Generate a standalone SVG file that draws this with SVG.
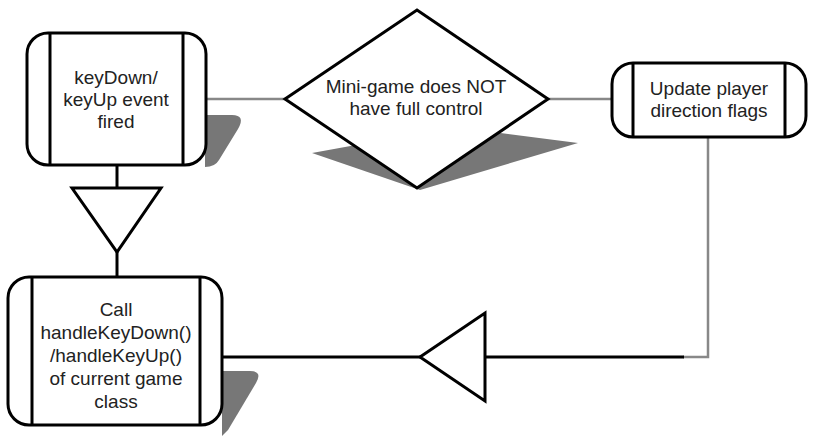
<svg xmlns="http://www.w3.org/2000/svg" width="816" height="436" viewBox="0 0 816 436">
<style>
.box{fill:#fff;stroke:#000;stroke-width:3}
.div{stroke:#000;stroke-width:3}
.shadow{fill:#777;stroke:none}
.t{font-family:"Liberation Sans",Arial,sans-serif;font-size:19px;fill:#222;text-anchor:middle}
.cg{fill:none;stroke:#888;stroke-width:2.5}
.cb{fill:none;stroke:#000;stroke-width:3}
.tri{fill:#fff;stroke:#000;stroke-width:3;stroke-linejoin:miter}
</style>
<rect width="816" height="436" fill="#fff"/>
<g id="connectors">
<line class="cg" x1="205" y1="99" x2="286" y2="99"/>
<line class="cg" x1="548" y1="99" x2="612" y2="99"/>
<polyline class="cg" points="708,137 708,357 683,357"/>
<line class="cb" x1="684" y1="357" x2="485" y2="357"/>
<line class="cb" x1="420" y1="357" x2="222" y2="357"/>
<line class="cb" x1="117" y1="165" x2="117" y2="188"/>
<line class="cb" x1="117" y1="252" x2="117" y2="277"/>
<polygon id="tri-down" class="tri" points="72,188 161,188 117,252"/>
<polygon id="tri-left" class="tri" points="485,313 485,401 420,357"/>
</g>
<g id="node-keyevent">
<path class="shadow" d="M205,115 L232,115 Q246,115 238,129 L219,160 Q215,167 205,167 Z"/>
<rect class="box" x="27" y="33" width="179" height="132" rx="21" ry="21"/>
<line class="div" x1="50" y1="33" x2="50" y2="165"/>
<line class="div" x1="183" y1="33" x2="183" y2="165"/>
<text class="t" x="116" y="84">keyDown/</text>
<text class="t" x="116" y="106">keyUp event</text>
<text class="t" x="116" y="128">fired</text>
</g>
<g id="node-decision">
<polygon class="shadow" points="312,153 455,127 578,143 420,190"/>
<polygon class="box" points="285,99 417,10 548,99 417,188"/>
<text class="t" x="416" y="93">Mini-game does NOT</text>
<text class="t" x="416" y="115">have full control</text>
</g>
<g id="node-update">
<rect class="box" x="612" y="63" width="194" height="74" rx="21" ry="21"/>
<line class="div" x1="633" y1="63" x2="633" y2="137"/>
<line class="div" x1="785" y1="63" x2="785" y2="137"/>
<text class="t" x="709" y="95">Update player</text>
<text class="t" x="709" y="117">direction flags</text>
</g>
<g id="node-call">
<path class="shadow" d="M222,371 L250,371 Q263,371 256,383 L228,430 L222,436 Z"/>
<rect class="box" x="8" y="277" width="214" height="148" rx="21" ry="21"/>
<line class="div" x1="32" y1="277" x2="32" y2="425"/>
<line class="div" x1="200" y1="277" x2="200" y2="425"/>
<text class="t" x="116" y="316">Call</text>
<text class="t" x="116" y="339">handleKeyDown()</text>
<text class="t" x="116" y="362">/handleKeyUp()</text>
<text class="t" x="116" y="385">of current game</text>
<text class="t" x="116" y="408">class</text>
</g>
</svg>
